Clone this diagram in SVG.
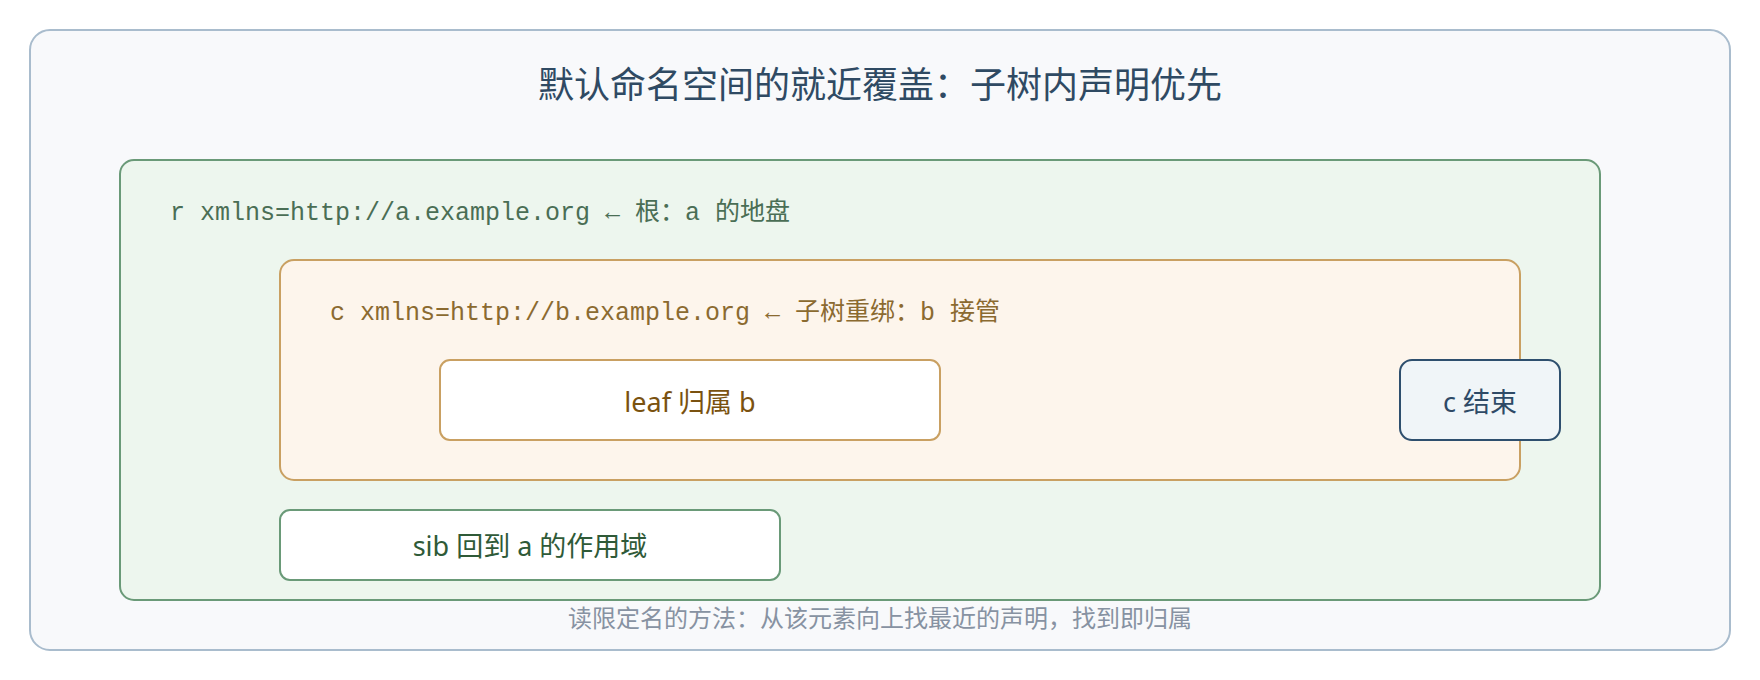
<svg xmlns="http://www.w3.org/2000/svg" width="1760" height="680" viewBox="0 0 1760 680">
  <style>
    .sans { font-family: "Noto Sans", "Noto Sans CJK SC", sans-serif; }
    .mono { font-family: "Liberation Mono", "Noto Sans CJK SC", monospace; font-size: 25px; }
    .lbl { font-size: 27px; text-anchor: middle; }
    .node { stroke-width: 2; }
  </style>
  <rect width="1760" height="680" fill="#ffffff"/>
  <g id="frame">
    <rect x="30" y="30" width="1700" height="620" rx="20" fill="#f8f9fb" stroke="#a9bccd" stroke-width="2"/>
    <text class="sans" x="880" y="98" font-size="36" text-anchor="middle" fill="#2f4a63">默认命名空间的就近覆盖：子树内声明优先</text>
  </g>
  <g id="root-r">
    <rect class="node" x="120" y="160" width="1480" height="440" rx="14" fill="#edf6ee" stroke="#6a9a78"/>
    <text class="mono" x="170" y="220" fill="#4a6e55">r xmlns=http://a.example.org ← 根：a 的地盘</text>
  </g>
  <g id="child-c">
    <rect class="node" x="280" y="260" width="1240" height="220" rx="14" fill="#fdf5ec" stroke="#c9a062"/>
    <text class="mono" x="330" y="320" fill="#8b6a30">c xmlns=http://b.example.org ← 子树重绑：b 接管</text>
  </g>
  <g id="leaf">
    <rect class="node" x="440" y="360" width="500" height="80" rx="10" fill="#ffffff" stroke="#c9a062"/>
    <text class="sans lbl" x="690" y="412" fill="#7a5210">leaf 归属 b</text>
  </g>
  <g id="c-end">
    <rect class="node" x="1400" y="360" width="160" height="80" rx="12" fill="#f0f5f8" stroke="#2e4f6e"/>
    <text class="sans lbl" x="1480" y="412" fill="#2e4a66">c 结束</text>
  </g>
  <g id="sib">
    <rect class="node" x="280" y="510" width="500" height="70" rx="10" fill="#ffffff" stroke="#6a9a78"/>
    <text class="sans lbl" x="530" y="556" fill="#2f5a38">sib 回到 a 的作用域</text>
  </g>
  <g id="footer">
    <text class="sans" x="880" y="627" font-size="24" text-anchor="middle" fill="#8792a2">读限定名的方法：从该元素向上找最近的声明，找到即归属</text>
  </g>
  <g id="connectors"></g>
</svg>
